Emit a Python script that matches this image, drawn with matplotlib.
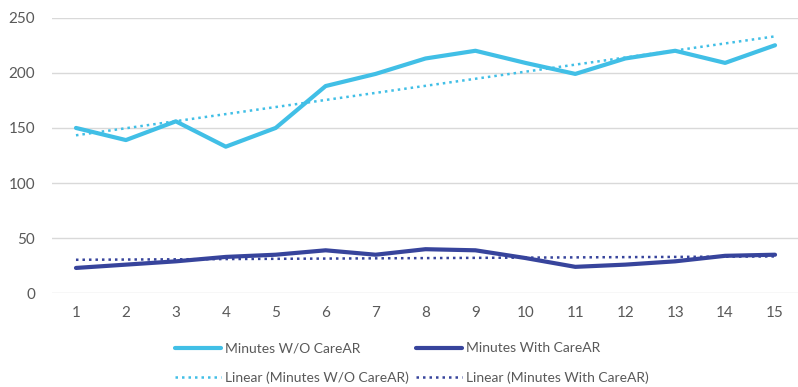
import matplotlib
matplotlib.use("Agg")
import matplotlib.pyplot as plt
import numpy as np

plt.rcParams['font.family'] = ['Lato', 'DejaVu Sans']

sessions = list(range(1, 16))
minutes_wo = [150, 139, 156, 133, 150, 188, 199, 213, 220, 209, 199, 213, 220, 209, 225]
minutes_with = [23, 26, 29, 33, 35, 39, 35, 40, 39, 32, 24, 26, 29, 34, 35]
y_ticks = [0, 50, 100, 150, 200, 250]

light = '#41BFE6'
dark = '#37449C'
grey_txt = '#595959'

fig = plt.figure(figsize=(7.98, 3.87), dpi=100)
ax = fig.add_axes([52/798, 1 - 293.3/387, (799-52)/798, (293.3-17.7)/387])

x = np.array(sessions, dtype=float)
l1, = ax.plot(x, minutes_wo, color=light, lw=3.0, solid_joinstyle='round',
              solid_capstyle='round', label='Minutes W/O CareAR', zorder=3)
l2, = ax.plot(x, minutes_with, color=dark, lw=3.0, solid_joinstyle='round',
              solid_capstyle='round', label='Minutes With CareAR', zorder=3)

p1 = np.polyfit(x, minutes_wo, 1)
p2 = np.polyfit(x, minutes_with, 1)
t1, = ax.plot(x, np.polyval(p1, x), color=light, lw=1.8, linestyle=(0, (1, 1.6)),
              label='Linear (Minutes W/O CareAR)', zorder=4)
t2, = ax.plot(x, np.polyval(p2, x), color=dark, lw=1.8, linestyle=(0, (1, 1.6)),
              label='Linear (Minutes With CareAR)', zorder=4)

ax.set_xlim(0.52, 15.48)
ax.set_ylim(0, 250)
ax.set_yticks(y_ticks)
ax.set_xticks(sessions)
ax.yaxis.grid(True, color='#D9D9D9', lw=1.0)
ax.set_axisbelow(True)
for s in ax.spines.values():
    s.set_visible(False)
ax.tick_params(axis='both', length=0, labelsize=11, labelcolor=grey_txt)
ax.tick_params(axis='y', pad=12)
ax.tick_params(axis='x', pad=9)

fig.legend(handles=[l1, t1, l2, t2], ncol=2, frameon=False,
           loc='center', bbox_to_anchor=(412/798, 1 - 363/387),
           fontsize=10, labelcolor=grey_txt, handlelength=3.3,
           handletextpad=0.3, columnspacing=0.5, labelspacing=1.2)

fig.savefig('out.png', dpi=100)
